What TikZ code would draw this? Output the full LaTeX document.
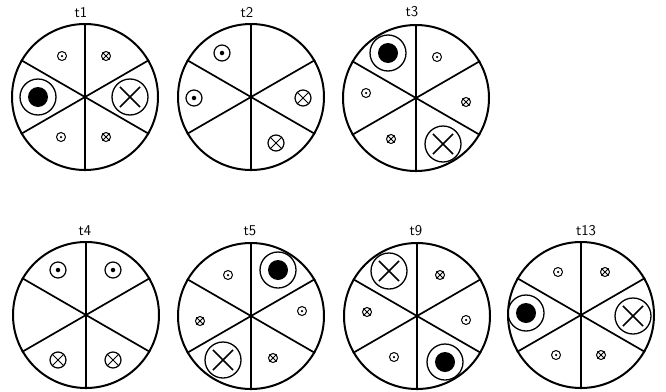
\documentclass[tikz,border=0pt]{standalone}
\begin{document}
\begin{tikzpicture}[x=1pt,y=-1pt,
  wheel/.style={circle, draw, line width=2pt, minimum size=146pt, inner sep=0pt},
  spoke/.style={line width=1.7pt},
  ringbig/.style={circle, draw, line width=1.3pt, minimum size=36pt, inner sep=0pt},
  xinner/.style={circle, minimum size=28pt, inner sep=0pt},
  core/.style={circle, fill, minimum size=20pt, inner sep=0pt},
  bigcross/.style={line width=1.7pt},
  tiny/.style={circle, draw, line width=1pt, minimum size=9pt, inner sep=0pt},
  mid/.style={circle, draw, line width=1.2pt, minimum size=16pt, inner sep=0pt},
  tinypip/.style={circle, fill, minimum size=2.5pt, inner sep=0pt},
  midpip/.style={circle, fill, minimum size=4.5pt, inner sep=0pt},
  thincross/.style={line width=0.9pt},
  lab/.style={font=\sffamily\fontsize{15}{17}\selectfont, inner sep=0pt}]
\useasboundingbox (0,0) rectangle (666,391);
\newcommand\wheelat[3]{%
  \node[wheel] (#1) at (#2,#3) {};
  \draw[spoke] (#1.90) -- (#1.270) (#1.30) -- (#1.210) (#1.150) -- (#1.330);}
\newcommand\bigdot[3]{%
  \node[ringbig] (#1) at (#2,#3) {};
  \node[core] (#1c) at (#1.center) {};}
\newcommand\bigx[3]{%
  \node[ringbig] (#1) at (#2,#3) {};
  \node[xinner] (#1i) at (#1.center) {};
  \draw[bigcross] (#1i.45) -- (#1i.225) (#1i.135) -- (#1i.315);}
\newcommand\tdot[3]{%
  \node[tiny] (#1) at (#2,#3) {};
  \node[tinypip] (#1c) at (#1.center) {};}
\newcommand\tx[3]{%
  \node[tiny] (#1) at (#2,#3) {};
  \draw[thincross] (#1.45) -- (#1.225) (#1.135) -- (#1.315);}
\newcommand\mdot[3]{%
  \node[mid] (#1) at (#2,#3) {};
  \node[midpip] (#1c) at (#1.center) {};}
\newcommand\mx[3]{%
  \node[mid] (#1) at (#2,#3) {};
  \draw[thincross] (#1.45) -- (#1.225) (#1.135) -- (#1.315);}

% t1
\node[lab] (l1) at (81,13) {t1};
\wheelat{w1}{85}{97}
\bigdot{a1}{38}{97}
\bigx{a2}{130}{97}
\tdot{a3}{62}{56}
\tx{a4}{106}{56}
\tdot{a5}{61}{137}
\tx{a6}{106}{137}

% t2
\node[lab] (l2) at (247,13) {t2};
\wheelat{w2}{251}{97}
\mdot{b1}{222}{53}
\mdot{b2}{194}{98}
\mx{b3}{303}{98}
\mx{b4}{276}{143}

% t3
\node[lab] (l3) at (412,12) {t3};
\wheelat{w3}{416}{98}
\bigdot{c1}{388}{53}
\tdot{c2}{437}{57}
\tdot{c3}{366}{93}
\tx{c4}{466}{102}
\tx{c5}{391}{139}
\bigx{c6}{443}{144}

% t4
\node[lab] (l4) at (85,231) {t4};
\wheelat{w4}{86}{315}
\mdot{d1}{58}{270}
\mdot{d2}{113}{270}
\mx{d3}{58}{360}
\mx{d4}{113}{360}

% t5
\node[lab] (l5) at (250,231) {t5};
\wheelat{w5}{251}{316}
\tdot{e1}{228}{275}
\bigdot{e2}{278}{270}
\tx{e3}{200}{321}
\tdot{e4}{302}{311}
\bigx{e5}{223}{360}
\tx{e6}{273}{358}

% t9
\node[lab] (l9) at (416,231) {t9};
\wheelat{w9}{417}{316}
\bigx{f1}{389}{271}
\tx{f2}{440}{275}
\tx{f3}{367}{312}
\tdot{f4}{466}{320}
\tdot{f5}{394}{357}
\bigdot{f6}{445}{362}

% t13
\node[lab] (l13) at (586,231) {t13};
\wheelat{w13}{581}{315}
\tdot{g1}{558}{272}
\tx{g2}{605}{272}
\bigdot{g3}{526}{313}
\bigx{g4}{633}{316}
\tdot{g5}{556}{355}
\tx{g6}{601}{355}
\end{tikzpicture}
\end{document}
